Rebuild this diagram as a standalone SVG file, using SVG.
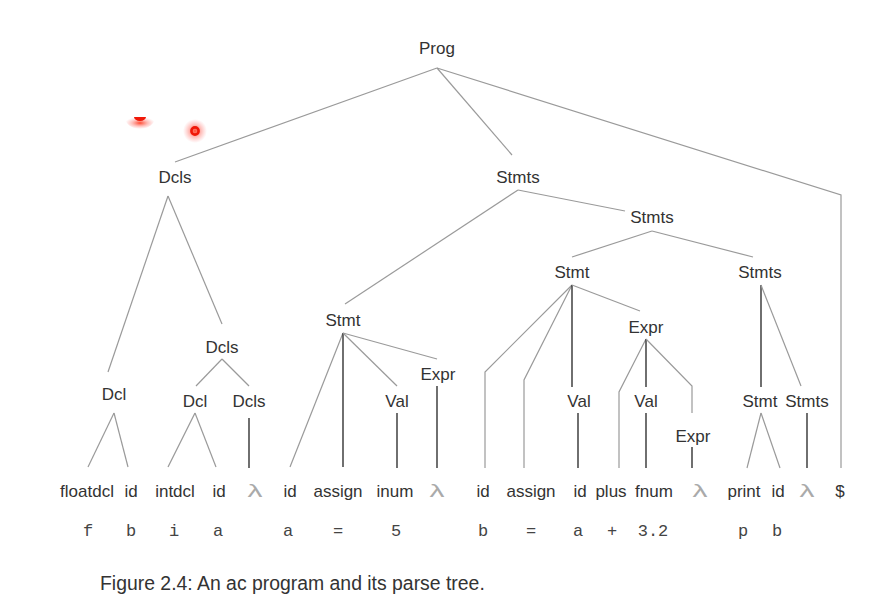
<svg xmlns="http://www.w3.org/2000/svg" width="888" height="615" viewBox="0 0 888 615">
<defs>
<style>
.n{font-family:"Liberation Sans",Arial,sans-serif;font-size:17px;fill:#333;text-anchor:middle}
.m{font-family:"Liberation Mono","Courier New",monospace;font-size:17px;fill:#444;text-anchor:middle}
.l{font-family:"Liberation Sans",Arial,sans-serif;font-size:18px;fill:#aaa;text-anchor:middle}
.cap{font-family:"Liberation Sans",Arial,sans-serif;font-size:19.4px;fill:#333}
.g{stroke:#9a9a9a;stroke-width:1.2;fill:none}
.d{stroke:#333;stroke-width:1.4;fill:none}
</style>
<radialGradient id="glow">
<stop offset="0" stop-color="#ff2000" stop-opacity="0.8"/>
<stop offset="0.5" stop-color="#ff4030" stop-opacity="0.35"/>
<stop offset="1" stop-color="#ff6060" stop-opacity="0"/>
</radialGradient>
</defs>
<rect width="888" height="615" fill="#fff"/>
<g id="laser">
<circle cx="195" cy="131" r="12" fill="url(#glow)"/>
<circle cx="195" cy="131" r="3.6" fill="none" stroke="#f01808" stroke-width="2.6"/>
<path d="M125,117 A15,12 0 0 0 155,117 Z" fill="url(#glow)"/>
<path d="M134,117 A6,4 0 0 0 146,117 Z" fill="#f01808"/>
</g>
<g id="connectors">
<line class="g" x1="437" y1="68" x2="175" y2="162"/>
<line class="g" x1="437" y1="68" x2="512" y2="155"/>
<polyline class="g" points="437,68 841,195 841,468"/>
<line class="g" x1="168" y1="196" x2="108" y2="372"/>
<line class="g" x1="168" y1="196" x2="222" y2="324"/>
<line class="g" x1="222" y1="359" x2="196" y2="386"/>
<line class="g" x1="222" y1="359" x2="249" y2="386"/>
<line class="g" x1="114" y1="413" x2="88" y2="467"/>
<line class="g" x1="114" y1="413" x2="128" y2="467"/>
<line class="g" x1="195" y1="413" x2="168" y2="467"/>
<line class="g" x1="195" y1="413" x2="216" y2="467"/>
<line class="d" x1="249" y1="418" x2="249" y2="468"/>
<line class="g" x1="518" y1="190" x2="345" y2="304"/>
<line class="g" x1="518" y1="190" x2="625" y2="211"/>
<line class="g" x1="652" y1="231" x2="572" y2="257"/>
<line class="g" x1="652" y1="231" x2="753" y2="257"/>
<line class="g" x1="343" y1="333" x2="290" y2="467"/>
<line class="d" x1="343" y1="333" x2="343" y2="467"/>
<line class="g" x1="343" y1="333" x2="397" y2="386"/>
<line class="g" x1="343" y1="333" x2="437" y2="359"/>
<line class="d" x1="397" y1="413" x2="397" y2="468"/>
<line class="d" x1="437" y1="386" x2="437" y2="468"/>
<polyline class="g" points="572,285 485,372 485,468"/>
<polyline class="g" points="572,285 524,380 524,468"/>
<line class="d" x1="572" y1="285" x2="572" y2="387"/>
<line class="g" x1="572" y1="285" x2="640" y2="311"/>
<polyline class="g" points="646,339 619,392 619,468"/>
<line class="d" x1="646" y1="339" x2="646" y2="387"/>
<polyline class="g" points="646,339 692,386 692,413"/>
<line class="d" x1="578" y1="413" x2="578" y2="468"/>
<line class="d" x1="646" y1="413" x2="646" y2="468"/>
<line class="d" x1="692" y1="447" x2="692" y2="468"/>
<line class="d" x1="761" y1="285" x2="761" y2="387"/>
<line class="g" x1="761" y1="285" x2="801" y2="386"/>
<line class="g" x1="761" y1="413" x2="747" y2="468"/>
<line class="g" x1="761" y1="413" x2="780" y2="468"/>
<line class="d" x1="807" y1="413" x2="807" y2="468"/>
</g>
<g id="n-prog"><text class="n" x="437" y="54">Prog</text></g>
<g id="n-dcls1"><text class="n" x="175" y="183">Dcls</text></g>
<g id="n-stmts1"><text class="n" x="518" y="183">Stmts</text></g>
<g id="n-stmts2"><text class="n" x="652" y="223">Stmts</text></g>
<g id="n-stmt1"><text class="n" x="343" y="326">Stmt</text></g>
<g id="n-stmt2"><text class="n" x="572" y="278">Stmt</text></g>
<g id="n-stmts3"><text class="n" x="760" y="278">Stmts</text></g>
<g id="n-dcls2"><text class="n" x="222" y="353">Dcls</text></g>
<g id="n-dcl1"><text class="n" x="114" y="400">Dcl</text></g>
<g id="n-dcl2"><text class="n" x="195" y="407">Dcl</text></g>
<g id="n-dcls3"><text class="n" x="249" y="407">Dcls</text></g>
<g id="n-val1"><text class="n" x="397" y="407">Val</text></g>
<g id="n-expr1"><text class="n" x="438" y="380">Expr</text></g>
<g id="n-expr2"><text class="n" x="646" y="333">Expr</text></g>
<g id="n-val2"><text class="n" x="579" y="407">Val</text></g>
<g id="n-val3"><text class="n" x="646" y="407">Val</text></g>
<g id="n-expr3"><text class="n" x="693" y="442">Expr</text></g>
<g id="n-stmt3"><text class="n" x="760" y="407">Stmt</text></g>
<g id="n-stmts4"><text class="n" x="807" y="407">Stmts</text></g>
<g id="leaves">
<text class="n" x="87" y="497">floatdcl</text>
<text class="n" x="131" y="497">id</text>
<text class="n" x="175" y="497">intdcl</text>
<text class="n" x="219" y="497">id</text>
<text class="l" x="255" y="497" textLength="15" lengthAdjust="spacingAndGlyphs">λ</text>
<text class="n" x="290" y="497">id</text>
<text class="n" x="338" y="497">assign</text>
<text class="n" x="395" y="497">inum</text>
<text class="l" x="437" y="497" textLength="15" lengthAdjust="spacingAndGlyphs">λ</text>
<text class="n" x="483" y="497">id</text>
<text class="n" x="531" y="497">assign</text>
<text class="n" x="580" y="497">id</text>
<text class="n" x="611" y="497">plus</text>
<text class="n" x="654" y="497">fnum</text>
<text class="l" x="700" y="497" textLength="15" lengthAdjust="spacingAndGlyphs">λ</text>
<text class="n" x="744" y="497">print</text>
<text class="n" x="778" y="497">id</text>
<text class="l" x="807" y="497" textLength="15" lengthAdjust="spacingAndGlyphs">λ</text>
<text class="n" x="840" y="497">$</text>
</g>
<g id="tokens">
<text class="m" x="88" y="536">f</text>
<text class="m" x="131" y="536">b</text>
<text class="m" x="174" y="536">i</text>
<text class="m" x="218" y="536">a</text>
<text class="m" x="288" y="536">a</text>
<text class="m" x="338" y="536">=</text>
<text class="m" x="396" y="536">5</text>
<text class="m" x="483" y="536">b</text>
<text class="m" x="531" y="536">=</text>
<text class="m" x="578" y="536">a</text>
<text class="m" x="612" y="536">+</text>
<text class="m" x="653" y="536">3.2</text>
<text class="m" x="743" y="536">p</text>
<text class="m" x="777" y="536">b</text>
</g>
<text class="cap" x="100" y="590">Figure 2.4: An ac program and its parse tree.</text>
</svg>
